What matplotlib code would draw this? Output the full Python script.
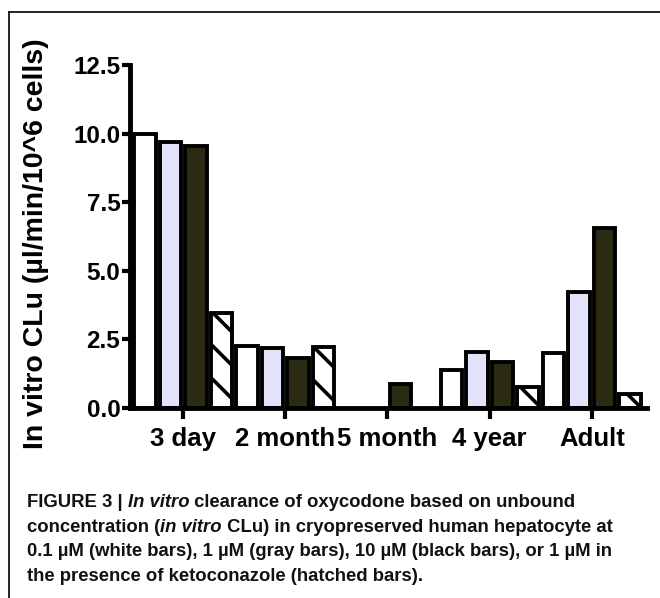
import numpy as np
import matplotlib
matplotlib.use("Agg")
import matplotlib.pyplot as plt
from matplotlib.lines import Line2D

# ---------------- data ----------------
categories = ['3 day', '2 month', '5 month', '4 year', 'Adult']
white_vals = [10.0, 2.27, np.nan, 1.38, 1.99]     # 0.1 uM
gray_vals = [9.70, 2.17, np.nan, 2.05, 4.23]      # 1 uM
black_vals = [9.55, 1.83, 0.86, 1.69, 6.55]       # 10 uM
hatched_vals = [3.45, 2.21, np.nan, 0.78, 0.51]   # 1 uM + ketoconazole
yticks = [0.0, 2.5, 5.0, 7.5, 10.0, 12.5]
ylabel = 'In vitro CLu (µl/min/10^6 cells)'

W, H = 660, 598
DPI = 100
fig = plt.figure(figsize=(W / DPI, H / DPI), dpi=DPI)

plt.rcParams['hatch.linewidth'] = 2.6

main_font = 'Liberation Sans'
cap_font = 'Liberation Sans'

# axes placement in pixels
ax_l, ax_r, ax_t, ax_b = 130, 647, 65, 408
ax = fig.add_axes([ax_l / W, 1 - ax_b / H, (ax_r - ax_l) / W, (ax_b - ax_t) / H])

x = np.arange(len(categories))
offsets = [-0.375, -0.125, 0.125, 0.375]
bw = 0.21
lw = 2.8
series = [
    (white_vals, dict(facecolor='white')),
    (gray_vals, dict(facecolor='#e2e2fa')),
    (black_vals, dict(facecolor='#2b2a12')),
    (hatched_vals, dict(facecolor='white', hatch='\\')),
]
for (vals, style), off in zip(series, offsets):
    ax.bar(x + off, vals, width=bw, edgecolor='black', linewidth=lw, zorder=2, **style)

ax.set_xlim(-0.52, 4.54)
ax.set_ylim(0, 12.5)
ax.set_yticks(yticks)
ax.set_yticklabels([f'{v:.1f}' for v in yticks])
ax.set_xticks(x)
ax.set_xticklabels(categories)

for s in ['top', 'right']:
    ax.spines[s].set_visible(False)
for s in ['left', 'bottom']:
    ax.spines[s].set_linewidth(3.5)
    ax.spines[s].set_zorder(5)
    ax.spines[s].set_capstyle('projecting')

ax.tick_params(axis='y', length=6, width=3, direction='out', pad=1)
ax.tick_params(axis='x', length=8, width=3, direction='out', pad=6)
for lab in ax.get_yticklabels():
    lab.set_fontfamily(main_font)
    lab.set_fontweight('bold')
    lab.set_fontsize(17.5)
for lab in ax.get_xticklabels():
    lab.set_fontfamily(main_font)
    lab.set_fontweight('bold')
    lab.set_fontsize(18.5)

fig.text(36 / W, 1 - 244 / H, ylabel, rotation=90, ha='center', va='center',
         fontfamily=main_font, fontweight='bold', fontsize=20.5)

# frame lines
fig.add_artist(Line2D([8.5 / W, 1.0], [1 - 12 / H, 1 - 12 / H], color='black', lw=1.2,
                      transform=fig.transFigure))
fig.add_artist(Line2D([8.5 / W, 8.5 / W], [1 - 12 / H, 0.0], color='black', lw=1.2,
                      transform=fig.transFigure))

# caption with mixed styles
caption_lines = [
    [('FIGURE 3 | ', 'normal'), ('In vitro', 'italic'), (' clearance of oxycodone based on unbound', 'normal')],
    [('concentration (', 'normal'), ('in vitro', 'italic'), (' CLu) in cryopreserved human hepatocyte at', 'normal')],
    [('0.1 µM (white bars), 1 µM (gray bars), 10 µM (black bars), or 1 µM in', 'normal')],
    [('the presence of ketoconazole (hatched bars).', 'normal')],
]
baselines = [507, 532, 556, 581]
cap_size = 13.3
fig.canvas.draw()
renderer = fig.canvas.get_renderer()
for runs, yb in zip(caption_lines, baselines):
    xp = 27
    for txt, st in runs:
        t = fig.text(xp / W, 1 - yb / H, txt, ha='left', va='baseline',
                     fontfamily=cap_font, fontweight='bold', fontstyle=st,
                     fontsize=cap_size, color='#111111')
        bb = t.get_window_extent(renderer=renderer)
        xp += bb.width

fig.savefig('out.png', dpi=DPI)
